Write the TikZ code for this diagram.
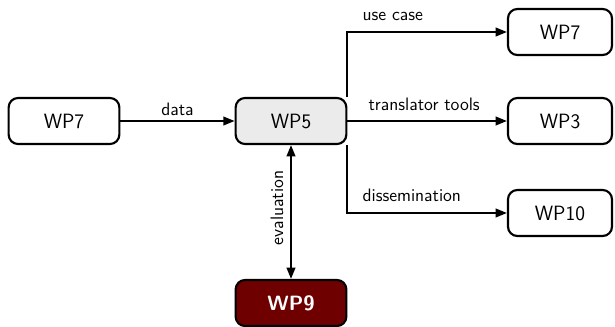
\documentclass[tikz,border=0pt]{standalone}
\usetikzlibrary{arrows.meta}
\begin{document}
\begin{tikzpicture}[x=0.75pt,y=-0.75pt,
  wp/.style={draw=black,line width=1.6pt,rounded corners=7pt,minimum width=83pt,minimum height=34.5pt,inner sep=0pt,font=\sffamily\fontsize{15.5}{18}\selectfont,fill=white},
  conn/.style={line width=1.5pt,-{Triangle[length=8.5pt,width=6.5pt]}},
  lbl/.style={font=\sffamily\fontsize{13.5}{16}\selectfont,inner sep=1pt}]
\useasboundingbox (0,0) rectangle (615,326);
\node[wp] (a) at (64,121) {WP7};
\node[wp,fill=black!8] (b) at (291,121) {WP5};
\node[wp,minimum width=78pt] (c) at (560,32) {WP7};
\node[wp,minimum width=78pt] (d) at (560,121) {WP3};
\node[wp,minimum width=78pt] (e) at (560,213) {WP10};
\node[wp,fill={rgb,255:red,110;green,0;blue,0},text=white,font=\sffamily\bfseries\fontsize{15.5}{18}\selectfont] (f) at (291,303) {WP9};
\draw[conn] (a) -- node[lbl,above=2pt] {data} (b);
\draw[conn] (b.north east) -- (b.north east |- c) -- (c);
\node[lbl,anchor=south west] (l1) at (361,22) {use case};
\draw[conn] (b) -- (d);
\node[lbl,anchor=south west] (l2) at (367,112) {translator tools};
\draw[conn] (b.south east) -- (b.south east |- e) -- (e);
\node[lbl,anchor=south west] (l3) at (361,203) {dissemination};
\draw[line width=1.5pt,{Triangle[length=8.5pt,width=6.5pt]}-{Triangle[length=8.5pt,width=6.5pt]}] (b) -- node[lbl,rotate=90,above=4pt,pos=0.47] {evaluation} (f);
\end{tikzpicture}
\end{document}
